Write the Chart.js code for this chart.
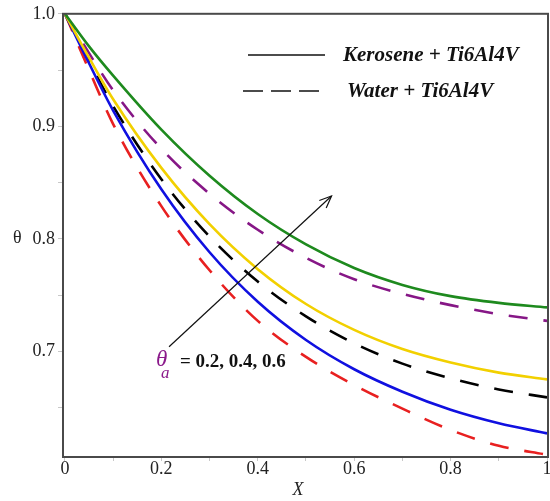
<!DOCTYPE html>
<html>
<head>
<meta charset="utf-8">
<script src="https://cdn.jsdelivr.net/npm/chart.js@4"></script>
<style>
  html, body { margin: 0; padding: 0; background: #fff; }
  #wrap { width: 550px; height: 501px; }
</style>
</head>
<body>
<div id="wrap"><canvas id="graph-canvas"></canvas></div>
<script>
/* values */
const xValues = [0, 0.05, 0.1, 0.2, 0.3, 0.4, 0.5, 0.6, 0.7, 0.8, 0.9, 1]

const keroseneHigh = [1, 0.971, 0.945, 0.897, 0.856, 0.822, 0.795, 0.774, 0.759, 0.749, 0.743, 0.739]
const keroseneMid  = [1, 0.961, 0.924, 0.863, 0.813, 0.773, 0.742, 0.719, 0.702, 0.690, 0.681, 0.675]
const keroseneLow  = [1, 0.956, 0.914, 0.844, 0.788, 0.744, 0.710, 0.684, 0.664, 0.648, 0.636, 0.627]
const waterHigh    = [1, 0.965, 0.932, 0.880, 0.840, 0.808, 0.783, 0.764, 0.751, 0.741, 0.733, 0.727]
const waterMid     = [1, 0.958, 0.918, 0.853, 0.802, 0.762, 0.731, 0.707, 0.689, 0.676, 0.666, 0.659]
const waterLow     = [1, 0.950, 0.902, 0.829, 0.772, 0.727, 0.695, 0.670, 0.649, 0.630, 0.616, 0.608]

const xTickLabels = ["0", "0.2", "0.4", "0.6", "0.8", "1"]
const yTickLabels = ["0.7", "0.8", "0.9", "1.0"]
const legendLabels = ["Kerosene + Ti6Al4V", "Water + Ti6Al4V"]
const paramLabel = "= 0.2, 0.4, 0.6"

const serif = "'Liberation Serif', 'DejaVu Serif', serif"

const toPoints = (ys) => xValues.map((x, i) => ({ x: x, y: ys[i] }))

const makeSet = (ys, color, dashed) => ({
    data : toPoints(ys),
    borderColor : color,
    borderWidth : 2.6,
    borderDash : dashed ? [19, 16] : [],
    pointRadius : 0,
    cubicInterpolationMode : "monotone",
    fill : false
})

/* frame, legend, arrow and labels drawn on top */
const decorations = {
    id : "decorations",
    afterDraw (chart) {
        const ctx = chart.ctx
        const area = chart.chartArea
        const xs = chart.scales.x
        const ys = chart.scales.y
        ctx.save()

        ctx.strokeStyle = "#4a4a4a"
        ctx.lineWidth = 2
        ctx.strokeRect(area.left, area.top, area.right - area.left, area.bottom - area.top)

        // legend keys
        ctx.strokeStyle = "#111"
        ctx.lineWidth = 1.6
        ctx.setLineDash([])
        ctx.beginPath()
        ctx.moveTo(248, 55)
        ctx.lineTo(325, 55)
        ctx.stroke()
        ctx.setLineDash([20, 8])
        ctx.beginPath()
        ctx.moveTo(243, 91)
        ctx.lineTo(320, 91)
        ctx.stroke()
        ctx.setLineDash([])

        ctx.fillStyle = "#111"
        ctx.font = "italic bold 21px " + serif
        ctx.textBaseline = "middle"
        ctx.textAlign = "left"
        ctx.fillText(legendLabels[0], 343, 56)
        ctx.fillText(legendLabels[1], 347, 92)

        // arrow
        const x0 = xs.getPixelForValue(0.216), y0 = ys.getPixelForValue(0.704)
        const x1 = xs.getPixelForValue(0.553), y1 = ys.getPixelForValue(0.838)
        ctx.strokeStyle = "#111"
        ctx.lineWidth = 1.2
        ctx.beginPath()
        ctx.moveTo(x0, y0)
        ctx.lineTo(x1, y1)
        ctx.stroke()
        const ang = Math.atan2(y1 - y0, x1 - x0)
        ctx.beginPath()
        ctx.moveTo(x1 - 13 * Math.cos(ang - 0.4), y1 - 13 * Math.sin(ang - 0.4))
        ctx.lineTo(x1, y1)
        ctx.lineTo(x1 - 13 * Math.cos(ang + 0.4), y1 - 13 * Math.sin(ang + 0.4))
        ctx.stroke()

        // parameter label
        ctx.fillStyle = "#8b1a8b"
        ctx.font = "italic 23px " + serif
        ctx.textBaseline = "alphabetic"
        ctx.fillText("θ", 156, 366)
        ctx.font = "italic 17px " + serif
        ctx.fillText("a", 161, 378)
        ctx.fillStyle = "#111"
        ctx.font = "bold 19px " + serif
        ctx.fillText(paramLabel, 180, 367)

        // axis titles
        ctx.font = "18px " + serif
        ctx.fillStyle = "#222"
        ctx.textBaseline = "middle"
        ctx.fillText("θ", 13, 238)
        ctx.font = "italic 18px " + serif
        ctx.textAlign = "center"
        ctx.fillText("X", 298, 490)

        ctx.restore()
    }
}

const config = {
    type : "line",
    data : {
        datasets : [
            makeSet(keroseneHigh, "#1e8a1e", false),
            makeSet(keroseneMid, "#f2d000", false),
            makeSet(keroseneLow, "#1010e0", false),
            makeSet(waterHigh, "#861786", true),
            makeSet(waterMid, "#000000", true),
            makeSet(waterLow, "#e82020", true)
        ]
    },
    options : {
        responsive : false,
        animation : false,
        layout : { padding : { top : 12, right : 2, left : 0, bottom : 0 } },
        plugins : { legend : { display : false }, tooltip : { enabled : false } },
        scales : {
            x : {
                type : "linear",
                min : -0.004,
                max : 1.002,
                afterFit : (scale) => { scale.height = 44 },
                afterBuildTicks : (scale) => {
                    scale.ticks = [0, 0.1, 0.2, 0.3, 0.4, 0.5, 0.6, 0.7, 0.8, 0.9, 1].map(v => ({ value : v }))
                },
                ticks : {
                    autoSkip : false,
                    maxRotation : 0,
                    padding : -3,
                    color : "#222",
                    font : { family : serif, size : 18 },
                    callback : (v) => {
                        const k = Math.round(v * 10)
                        return k % 2 === 0 ? xTickLabels[k / 2] : ""
                    }
                },
                grid : { drawOnChartArea : false, drawTicks : true, tickLength : 4, color : "#c8c8c8" },
                border : { display : false }
            },
            y : {
                type : "linear",
                min : 0.606,
                max : 1.0,
                afterFit : (scale) => { scale.width = 63 },
                afterBuildTicks : (scale) => {
                    scale.ticks = [0.65, 0.7, 0.75, 0.8, 0.85, 0.9, 0.95, 1.0].map(v => ({ value : v }))
                },
                ticks : {
                    autoSkip : false,
                    padding : 3,
                    color : "#222",
                    font : { family : serif, size : 18 },
                    callback : (v) => {
                        const k = Math.round(v * 20)
                        return k % 2 === 0 ? yTickLabels[k / 2 - 7] : ""
                    }
                },
                grid : { drawOnChartArea : false, drawTicks : true, tickLength : 5, color : "#c8c8c8" },
                border : { display : false }
            }
        }
    },
    plugins : [decorations]
}

const canvas = document.querySelector("#graph-canvas")
canvas.width = 550
canvas.height = 501
new Chart(canvas, config)
</script>
</body>
</html>
